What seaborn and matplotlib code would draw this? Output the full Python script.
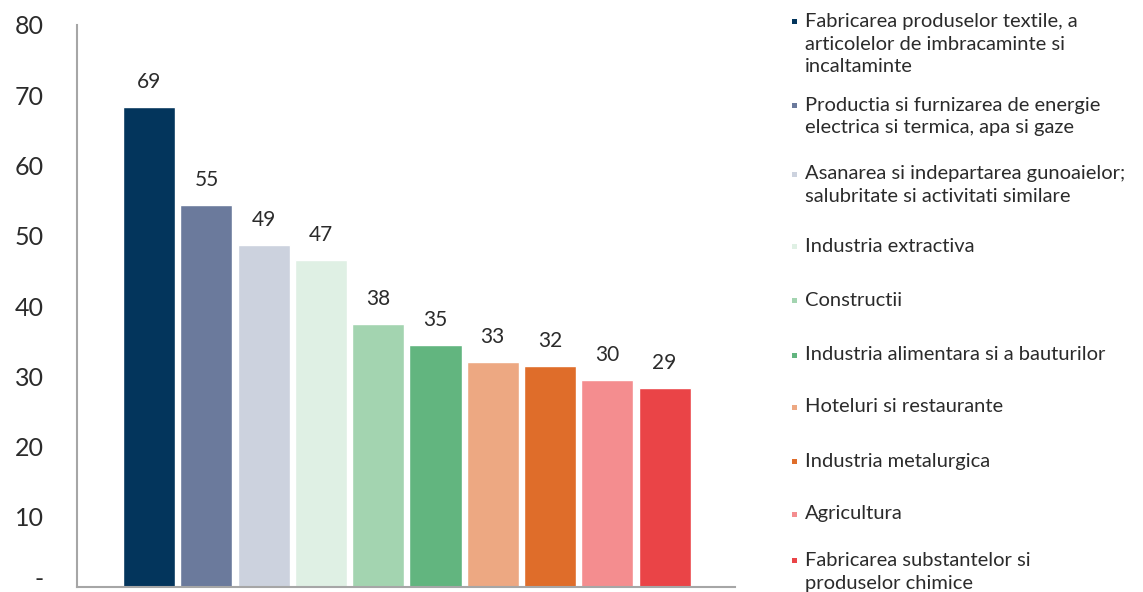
import matplotlib
matplotlib.use("Agg")
import matplotlib.pyplot as plt
import matplotlib.transforms as mtransforms
import seaborn as sns
import pandas as pd
from matplotlib.patches import Rectangle

categories = [
    "Fabricarea produselor textile, a\narticolelor de imbracaminte si\nincaltaminte",
    "Productia si furnizarea de energie\nelectrica si termica, apa si gaze",
    "Asanarea si indepartarea gunoaielor;\nsalubritate si activitati similare",
    "Industria extractiva",
    "Constructii",
    "Industria alimentara si a bauturilor",
    "Hoteluri si restaurante",
    "Industria metalurgica",
    "Agricultura",
    "Fabricarea substantelor si\nproduselor chimice",
]
values = [68.3, 54.4, 48.7, 46.6, 37.4, 34.5, 32.0, 31.5, 29.5, 28.3]
value_labels = ["69", "55", "49", "47", "38", "35", "33", "32", "30", "29"]
colors = ["#03355c", "#6b7a9c", "#ccd2de", "#dff0e4", "#a3d4b0",
          "#62b57f", "#eda882", "#df6d2a", "#f48d8f", "#ea4447"]
yticks = [0, 10, 20, 30, 40, 50, 60, 70, 80]
ytick_labels = ["-", "10", "20", "30", "40", "50", "60", "70", "80"]

sns.set_theme(style="white")
plt.rcParams['font.family'] = ['Lato', 'DejaVu Sans']
text_color = "#2b2b2b"

fig = plt.figure(figsize=(11.43, 5.92), dpi=100)
ax = fig.add_axes([77/1143, 5/592, (735-77)/1143, (587-25)/592])

df = pd.DataFrame({"cat": categories, "val": values})
sns.barplot(data=df, x="cat", y="val", hue="cat", palette=colors,
            legend=False, width=0.91, ax=ax, saturation=1)

for i, (v, lab) in enumerate(zip(values, value_labels)):
    ax.annotate(lab, (i, v), xytext=(0, 13.7), textcoords="offset points",
                ha="center", va="baseline", fontsize=15, color=text_color)

ax.set_xlim(-1.26, 10.23)
ax.set_ylim(0, 80)
ax.set_yticks(yticks)
ax.set_yticklabels([("" if t == "-" else t) for t in ytick_labels],
                   fontsize=18, color=text_color)
ax.tick_params(axis="y", length=0, pad=24)
# the zero label ("-") kept inside the figure
zero_tr = ax.get_yaxis_transform() + mtransforms.ScaledTranslation(-24/72, -3/72, fig.dpi_scale_trans)
ax.text(0, 0, ytick_labels[0], transform=zero_tr, ha="right", va="bottom",
        fontsize=18, color=text_color, clip_on=False)
ax.set_xticks([])
ax.set_xlabel("")
ax.set_ylabel("")
for s in ["top", "right"]:
    ax.spines[s].set_visible(False)
for s in ["left", "bottom"]:
    ax.spines[s].set_color("#a6a6a6")
    ax.spines[s].set_linewidth(1.5)

# legend entries (manual placement, top line centre y in px)
legend_y = [21, 105, 174, 246, 300, 355, 407, 461, 514, 560]
line_h = 23
for cat, col, yp in zip(categories, colors, legend_y):
    fig.add_artist(Rectangle((792/1143, 1 - (yp + 3)/592), 5/1143, 5/592,
                             transform=fig.transFigure, color=col, lw=0))
    for j, line in enumerate(cat.split("\n")):
        fig.text(805/1143, 1 - (yp + j*line_h)/592, line, ha="left", va="center",
                 fontsize=14.5, color=text_color)

fig.savefig("out.png", dpi=100)
